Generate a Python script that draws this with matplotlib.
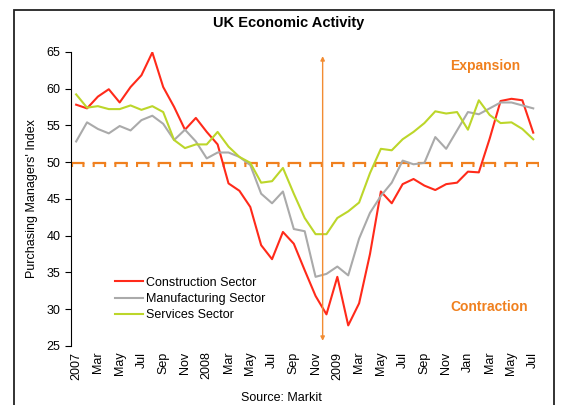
import numpy as np
import matplotlib
matplotlib.use('Agg')
import matplotlib.pyplot as plt
from matplotlib.patches import Rectangle

plt.rcParams['font.family'] = ['Liberation Sans', 'DejaVu Sans']
plt.rcParams['lines.scale_dashes'] = False

# monthly PMI readings, Jan 2007 - Jul 2010
construction = [57.8, 57.3, 58.9, 59.9, 58.1, 60.2, 61.8, 64.9, 60.2, 57.5,
                54.4, 56.0, 54.1, 52.4, 47.1, 46.1, 43.9, 38.7, 36.8, 40.5,
                38.9, 35.3, 31.8, 29.3, 34.4, 27.8, 30.8, 37.5, 46.0, 44.4,
                47.0, 47.7, 46.8, 46.2, 47.0, 47.2, 48.7, 48.6, 53.2, 58.3,
                58.6, 58.4, 54.0]
manufacturing = [52.8, 55.4, 54.5, 53.9, 54.9, 54.3, 55.7, 56.3, 55.2, 53.0,
                 54.4, 52.8, 50.5, 51.3, 51.3, 50.7, 49.6, 45.7, 44.4, 46.0,
                 40.9, 40.6, 34.4, 34.8, 35.8, 34.6, 39.6, 43.1, 45.4, 47.2,
                 50.2, 49.7, 49.9, 53.4, 51.8, 54.3, 56.8, 56.5, 57.3, 58.1,
                 58.1, 57.7, 57.3]
services = [59.2, 57.4, 57.6, 57.2, 57.2, 57.7, 57.1, 57.6, 56.8, 53.0,
            51.9, 52.4, 52.4, 54.1, 52.1, 50.7, 49.9, 47.2, 47.4, 49.2,
            45.7, 42.4, 40.2, 40.2, 42.4, 43.3, 44.5, 48.5, 51.8, 51.6,
            53.1, 54.1, 55.3, 56.9, 56.6, 56.8, 54.4, 58.4, 56.4, 55.3,
            55.4, 54.5, 53.1]
tick_labels = ['2007', 'Mar', 'May', 'Jul', 'Sep', 'Nov',
               '2008', 'Mar', 'May', 'Jul', 'Sep', 'Nov',
               '2009', 'Mar', 'May', 'Jul', 'Sep', 'Nov',
               'Jan', 'Mar', 'May', 'Jul']

orange = '#F0801E'
months = np.arange(len(construction))

fig = plt.figure(figsize=(5.62, 4.05), dpi=100)
ax = fig.add_axes([0.1258, 0.1457, 0.8327, 0.7266])

# 50 line: dashes with little legs under each end
ax.plot([-0.5, 42.5], [49.88, 49.88], color=orange, lw=1.6,
        dashes=(9.7, 5.9), dash_capstyle='butt')
ax.plot([-0.5, 42.5], [49.55, 49.55], color=orange, lw=2.9,
        dashes=(1.5, 6.7, 1.5, 5.9), dash_capstyle='butt')

ax.plot(months, construction, color='#FF2A1A', lw=1.5, label='Construction Sector')
ax.plot(months, manufacturing, color='#AAAAAA', lw=1.5, label='Manufacturing Sector')
ax.plot(months, services, color='#BCD62A', lw=1.5, label='Services Sector')

ax.annotate('', xy=(22.65, 64.4), xytext=(22.65, 25.7),
            arrowprops=dict(arrowstyle='<|-|>', color='#F28C32', lw=1.0,
                            mutation_scale=6, shrinkA=0, shrinkB=0))

ax.text(34.4, 63.1, 'Expansion', color=orange, fontsize=10, fontweight='bold',
        va='center', ha='left')
ax.text(34.4, 30.3, 'Contraction', color=orange, fontsize=10, fontweight='bold',
        va='center', ha='left')

ax.set_xlim(-0.5, 42.5)
ax.set_ylim(25, 65)
ax.set_yticks(range(25, 66, 5))
ax.set_xticks(np.arange(0, 43, 2))
ax.set_xticklabels(tick_labels, rotation=90, fontsize=9)
ax.tick_params(axis='x', length=0, pad=4)
ax.tick_params(axis='y', length=4, labelsize=9, direction='out')
for s in ['top', 'right', 'bottom']:
    ax.spines[s].set_visible(False)
ax.set_ylabel("Purchasing Managers' Index", fontsize=9, labelpad=6)

ax.legend(loc='lower left', bbox_to_anchor=(0.07, 0.045), frameon=False,
          fontsize=9, handlelength=2.3, handletextpad=0.2, labelspacing=0.35)

fig.text(0.514, 0.943, 'UK Economic Activity', ha='center', va='center',
         fontsize=10.5, fontweight='bold')
fig.text(0.5, 0.017, 'Source: Markit', ha='center', va='center', fontsize=9)

fig.patches.append(Rectangle((14 / 562, -0.05), 540 / 562, 1.05 - 10 / 405,
                             transform=fig.transFigure, fill=False,
                             edgecolor='#222222', lw=1.3))

fig.savefig('out.png', dpi=100)
